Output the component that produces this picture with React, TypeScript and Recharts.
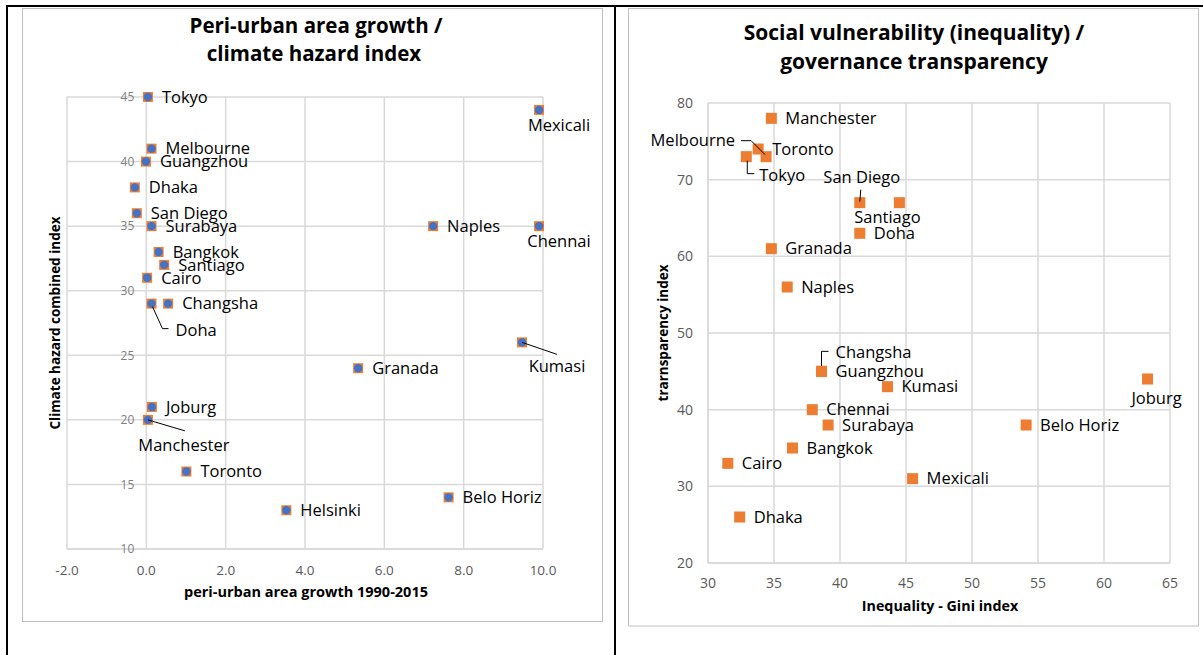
import React from "react";
import {
  ScatterChart,
  Scatter,
  XAxis,
  YAxis,
  CartesianGrid,
  ReferenceDot,
} from "recharts";

// ---- chart 1: peri-urban growth vs climate hazard ----
const growthCities = [
  "Tokyo", "Melbourne", "Guangzhou", "Dhaka", "San Diego", "Surabaya", "Bangkok",
  "Santiago", "Cairo", "Doha", "Changsha", "Granada", "Joburg", "Manchester",
  "Toronto", "Helsinki", "Belo Horiz", "Naples", "Mexicali", "Chennai", "Kumasi",
];
const growthValues = [
  0.04, 0.13, -0.01, -0.29, -0.24, 0.13, 0.31, 0.45, 0.02, 0.13, 0.55, 5.34, 0.14,
  0.04, 1.01, 3.53, 7.62, 7.23, 9.9, 9.9, 9.47,
];
const hazardValues = [
  45, 41, 40, 38, 36, 35, 33, 32, 31, 29, 29, 24, 21, 20, 16, 13, 14, 35, 44, 35, 26,
];
const growthTicks = [-2, 0, 2, 4, 6, 8, 10];
const hazardTicks = [10, 15, 20, 25, 30, 35, 40, 45];

// ---- chart 2: gini vs transparency ----
const giniCities = [
  "Manchester", "Toronto", "Melbourne", "Tokyo", "San Diego", "Santiago", "Doha",
  "Granada", "Naples", "Changsha", "Guangzhou", "Kumasi", "Joburg", "Chennai",
  "Surabaya", "Belo Horiz", "Bangkok", "Cairo", "Mexicali", "Dhaka",
];
const giniValues = [
  34.8, 33.8, 34.4, 32.9, 41.5, 44.5, 41.5, 34.8, 36.0, 38.6, 38.6, 43.6, 63.3,
  37.9, 39.1, 54.1, 36.4, 31.5, 45.5, 32.4,
];
const transparencyValues = [
  78, 74, 73, 73, 67, 67, 63, 61, 56, 45, 45, 43, 44, 40, 38, 38, 35, 33, 31, 26,
];
const giniTicks = [30, 35, 40, 45, 50, 55, 60, 65];
const transparencyTicks = [20, 30, 40, 50, 60, 70, 80];

const growthData = growthCities.map((name, i) => ({ name, x: growthValues[i], y: hazardValues[i] }));
const giniData = giniCities.map((name, i) => ({ name, x: giniValues[i], y: transparencyValues[i] }));

const FONT = "'Open Sans', sans-serif";
const ORANGE = "#ED7D31";
const BLUE = "#4472C4";
const GRID = "#d9d9d9";
const TICK = "#595959";
const LABEL_SIZE = 16.5;

type LabelPos = { dx: number; dy: number; anchor?: "start" | "middle" | "end"; leader?: number[][] };
const DEFAULT_POS: LabelPos = { dx: 14, dy: 0, anchor: "start" };

// manually moved labels (offsets from the point, px)
const growthLabelPos: Record<string, LabelPos> = {
  Doha: { dx: 24, dy: 27, leader: [[1, 3], [11, 25], [17, 25]] },
  Manchester: { dx: 36, dy: 25, anchor: "middle", leader: [[0, 0], [37, 11]] },
  Mexicali: { dx: 20, dy: 15, anchor: "middle" },
  Chennai: { dx: 20, dy: 15, anchor: "middle" },
  Kumasi: { dx: 35, dy: 24, anchor: "middle", leader: [[0, 0], [35, 12]] },
};
const giniLabelPos: Record<string, LabelPos> = {
  Melbourne: { dx: -31, dy: -16, anchor: "end", leader: [[-25, -16], [-15, -16], [-1, -2]] },
  Tokyo: { dx: 13, dy: 19, leader: [[1, 4], [1, 17], [8, 17]] },
  "San Diego": { dx: 2, dy: -25, anchor: "middle", leader: [[1, -13], [0, -1]] },
  Santiago: { dx: -12, dy: 15, anchor: "middle" },
  Changsha: { dx: 14, dy: -19, leader: [[0, -1], [0, -20], [7, -20]] },
  Joburg: { dx: 9, dy: 19, anchor: "middle" },
};

function pointLabel(cx: number, cy: number, name: string, pos: LabelPos) {
  return (
    <>
      {pos.leader && (
        <polyline
          points={pos.leader.map(([a, b]) => `${cx + a},${cy + b}`).join(" ")}
          fill="none"
          stroke="#000"
          strokeWidth={1}
        />
      )}
      <text
        x={cx + pos.dx}
        y={cy + pos.dy}
        dy="0.35em"
        textAnchor={pos.anchor ?? "start"}
        fontFamily={FONT}
        fontSize={LABEL_SIZE}
        fill="#000"
      >
        {name}
      </text>
    </>
  );
}

const growthShape = (props: any) => {
  const { cx, cy, payload } = props;
  const pos = growthLabelPos[payload.name] ?? DEFAULT_POS;
  return (
    <g>
      <rect x={cx - 5} y={cy - 5} width={10} height={10} fill={ORANGE} />
      <circle cx={cx} cy={cy} r={4.2} fill={BLUE} />
      {pointLabel(cx, cy, payload.name, pos)}
    </g>
  );
};

const giniShape = (props: any) => {
  const { cx, cy, payload } = props;
  const pos = giniLabelPos[payload.name] ?? DEFAULT_POS;
  return (
    <g>
      <rect x={cx - 5.5} y={cy - 5.5} width={11} height={11} fill={ORANGE} />
      {pointLabel(cx, cy, payload.name, pos)}
    </g>
  );
};

const bold = { fontFamily: FONT, fontWeight: 700, fill: "#000" } as const;

export default function App() {
  return (
    <div style={{ position: "fixed", left: 0, top: 0, width: 1203, height: 655, background: "#fff", overflow: "hidden" }}>
      {/* page frame + chart boxes + titles */}
      <svg width={1203} height={655} style={{ position: "absolute", left: 0, top: 0 }}>
        <rect x={22.5} y={8.5} width={580} height={613} fill="none" stroke="#bfbfbf" />
        <rect x={628.5} y={8.5} width={570} height={617.5} fill="none" stroke="#bfbfbf" />
        <rect x={6} y={5} width={1197} height={2} fill="#000" />
        <rect x={6} y={5} width={2} height={650} fill="#000" />
        <rect x={614} y={5} width={2} height={650} fill="#000" />

        <text x={316} y={33} textAnchor="middle" fontSize={20.5} {...bold}>Peri-urban area growth /</text>
        <text x={314} y={61} textAnchor="middle" fontSize={20.5} {...bold}>climate hazard index</text>
        <text x={306} y={597} textAnchor="middle" fontSize={14.5} {...bold}>peri-urban area growth 1990-2015</text>
        <text transform="translate(60,323) rotate(-90)" textAnchor="middle" fontSize={13.5} {...bold}>
          Climate hazard combined index
        </text>

        <text x={914} y={40} textAnchor="middle" fontSize={21} {...bold}>Social vulnerability (inequality) /</text>
        <text x={914} y={69} textAnchor="middle" fontSize={21} {...bold}>governance transparency</text>
        <text x={940} y={611} textAnchor="middle" fontSize={14.3} {...bold}>Inequality - Gini index</text>
        <text transform="translate(668,333) rotate(-90)" textAnchor="middle" fontSize={13.5} {...bold}>
          trarnsparency index
        </text>
      </svg>

      <div style={{ position: "absolute", left: 0, top: 0 }}>
        <ScatterChart width={610} height={655} margin={{ top: 97, left: 67, right: 67, bottom: 76 }}>
          <CartesianGrid stroke={GRID} strokeWidth={1.5} />
          <XAxis
            type="number"
            dataKey="x"
            domain={[-2, 10]}
            ticks={growthTicks}
            tickFormatter={(v: number) => v.toFixed(1)}
            height={30}
            axisLine={{ stroke: GRID, strokeWidth: 1.5 }}
            tickLine={false}
            tickMargin={10}
            tick={{ fill: TICK, fontSize: 13.5, fontFamily: FONT }}
          />
          <YAxis type="number" dataKey="y" domain={[10, 45]} ticks={hazardTicks} hide width={0} />
          {hazardTicks.map((t) => (
            <ReferenceDot
              key={t}
              x={0}
              y={t}
              r={0}
              stroke="none"
              label={{ value: t, position: "left", offset: 12, fill: "#7f7f7f", fontSize: 12, fontFamily: FONT }}
            />
          ))}
          <Scatter data={growthData} shape={growthShape} isAnimationActive={false} />
        </ScatterChart>
      </div>

      <div style={{ position: "absolute", left: 620, top: 0 }}>
        <ScatterChart width={583} height={655} margin={{ top: 103, left: 28, right: 33, bottom: 62 }}>
          <CartesianGrid stroke={GRID} strokeWidth={1.5} />
          <XAxis
            type="number"
            dataKey="x"
            domain={[30, 65]}
            ticks={giniTicks}
            height={30}
            axisLine={{ stroke: GRID, strokeWidth: 1.5 }}
            tickLine={false}
            tickMargin={9}
            tick={{ fill: TICK, fontSize: 14, fontFamily: FONT }}
          />
          <YAxis
            type="number"
            dataKey="y"
            domain={[20, 80]}
            ticks={transparencyTicks}
            width={60}
            axisLine={{ stroke: GRID, strokeWidth: 1.5 }}
            tickLine={false}
            tickMargin={9}
            tick={{ fill: TICK, fontSize: 14, fontFamily: FONT }}
          />
          <Scatter data={giniData} shape={giniShape} isAnimationActive={false} />
        </ScatterChart>
      </div>
    </div>
  );
}
